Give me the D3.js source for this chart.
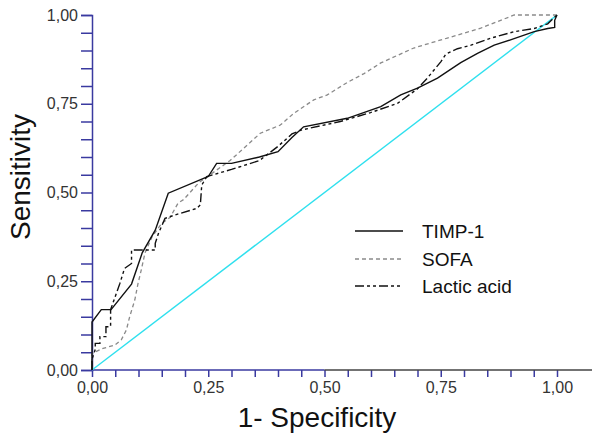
<!DOCTYPE html>
<html><head><meta charset="utf-8">
<script src="https://cdn.jsdelivr.net/npm/d3@7"></script>
<style>body{margin:0;background:#fff}svg{display:block}text{font-family:Arial,"Liberation Sans",sans-serif}</style>
</head><body>
<script>
// ---- data ----
const seriesNames = ["TIMP-1", "SOFA", "Lactic acid"];
const tickValues = d3.range(0, 21).map(i => i / 20);
const labelTicks = [0, 0.25, 0.5, 0.75, 1];

const timpFpr = [0, 0, 0.02, 0.041, 0.085, 0.108, 0.136, 0.164, 0.24, 0.25, 0.268, 0.30, 0.36, 0.40, 0.43, 0.455, 0.549, 0.621, 0.664, 0.70, 0.743, 0.793, 0.829, 0.865, 0.90, 0.951, 0.98, 0.995, 0.995, 1];
const timpTpr = [0, 0.135, 0.17, 0.17, 0.242, 0.33, 0.394, 0.498, 0.54, 0.545, 0.582, 0.582, 0.60, 0.615, 0.655, 0.685, 0.709, 0.742, 0.775, 0.794, 0.822, 0.866, 0.892, 0.915, 0.93, 0.953, 0.962, 0.965, 0.985, 1];

const sofaFpr = [0, 0, 0.024, 0.049, 0.063, 0.074, 0.081, 0.092, 0.099, 0.106, 0.114, 0.129, 0.15, 0.168, 0.185, 0.197, 0.230, 0.297, 0.362, 0.405, 0.434, 0.477, 0.506, 0.549, 0.585, 0.621, 0.692, 0.764, 0.836, 0.908, 1];
const sofaTpr = [0, 0.047, 0.061, 0.070, 0.085, 0.113, 0.150, 0.197, 0.244, 0.282, 0.33, 0.375, 0.413, 0.43, 0.47, 0.48, 0.528, 0.59, 0.667, 0.69, 0.723, 0.761, 0.775, 0.81, 0.835, 0.865, 0.907, 0.935, 0.963, 1.0, 1.0];

const lactFpr = [0, 0, 0.007, 0.007, 0.017, 0.017, 0.03, 0.03, 0.04, 0.04, 0.06, 0.07, 0.085, 0.085, 0.136, 0.136, 0.143, 0.157, 0.179, 0.225, 0.233, 0.236, 0.247, 0.30, 0.36, 0.40, 0.43, 0.45, 0.534, 0.599, 0.657, 0.70, 0.721, 0.75, 0.761, 0.786, 0.815, 0.858, 0.908, 0.951, 0.98, 1];
const lactTpr = [0, 0.03, 0.058, 0.075, 0.075, 0.094, 0.094, 0.122, 0.122, 0.17, 0.244, 0.286, 0.30, 0.338, 0.338, 0.357, 0.385, 0.427, 0.437, 0.455, 0.465, 0.521, 0.545, 0.565, 0.59, 0.63, 0.665, 0.676, 0.70, 0.725, 0.751, 0.792, 0.822, 0.868, 0.89, 0.905, 0.915, 0.935, 0.953, 0.962, 0.975, 1];

const refFpr = [0, 1];
const refTpr = [0, 1];

// ---- chart ----
const W = 600, H = 444;
const svg = d3.select("body").append("svg").attr("width", W).attr("height", H);
const x = d3.scaleLinear().domain([0, 1]).range([92, 557]);
const y = d3.scaleLinear().domain([0, 1]).range([370, 15]);
const fmt = v => d3.format(".2f")(v).replace(".", ",");
const blue = "#3a3aa0";

// y axis
const ya = svg.append("g").attr("transform", `translate(${x(0)},0)`)
  .call(d3.axisLeft(y).tickValues(tickValues).tickSize(11).tickPadding(3)
    .tickFormat(d => labelTicks.some(t => Math.abs(t - d) < 1e-9) ? fmt(d) : ""));
ya.select(".domain").attr("stroke", blue).attr("stroke-width", 1.5);
ya.selectAll(".tick line").attr("stroke", blue).attr("stroke-width", 1.5);
ya.selectAll(".tick text").attr("fill", "#333").style("font-size", "16px");

// x axis
const xa = svg.append("g").attr("transform", `translate(0,${y(0)})`)
  .call(d3.axisBottom(x).tickValues(tickValues).tickSize(7).tickPadding(5)
    .tickFormat(d => labelTicks.some(t => Math.abs(t - d) < 1e-9) ? fmt(d) : ""));
xa.select(".domain").remove();
xa.selectAll(".tick line").attr("stroke", blue).attr("stroke-width", 1.5);
xa.selectAll(".tick text").attr("fill", "#333").style("font-size", "16px");
xa.append("line").attr("x1", x(0)).attr("x2", x(0.5)).attr("stroke", blue).attr("stroke-width", 1.5);
xa.append("line").attr("x1", x(0.5)).attr("x2", 592).attr("stroke", "#444").attr("stroke-width", 1.5);

// titles
svg.append("text").attr("x", 317).attr("y", 427).attr("text-anchor", "middle")
  .style("font-size", "28px").attr("fill", "#111").text("1- Specificity");
svg.append("text").attr("transform", "translate(30,177) rotate(-90)").attr("text-anchor", "middle")
  .style("font-size", "28px").attr("fill", "#111").text("Sensitivity");

// curves
const line = d3.line().x(d => x(d[0])).y(d => y(d[1]));
const zip = (a, b) => a.map((v, i) => [v, b[i]]);
svg.append("path").datum(zip(refFpr, refTpr)).attr("d", line)
  .attr("fill", "none").attr("stroke", "#2fe0ee").attr("stroke-width", 1.5);
svg.append("path").datum(zip(sofaFpr, sofaTpr)).attr("d", line)
  .attr("fill", "none").attr("stroke", "#8a8a8a").attr("stroke-width", 1.3).attr("stroke-dasharray", "4,3");
svg.append("path").datum(zip(lactFpr, lactTpr)).attr("d", line)
  .attr("fill", "none").attr("stroke", "#111").attr("stroke-width", 1.4).attr("stroke-dasharray", "9,3,3,3,3,3");
svg.append("path").datum(zip(timpFpr, timpTpr)).attr("d", line)
  .attr("fill", "none").attr("stroke", "#111").attr("stroke-width", 1.4);

// legend
const styles = [
  {stroke: "#111", dash: null},
  {stroke: "#8a8a8a", dash: "4,3"},
  {stroke: "#111", dash: "9,3,3,3,3,3"}
];
const legY = [231, 259, 286];
seriesNames.forEach((n, i) => {
  const g = svg.append("g");
  g.append("line").attr("x1", 355).attr("x2", 403).attr("y1", legY[i]).attr("y2", legY[i])
    .attr("stroke", styles[i].stroke).attr("stroke-width", 1.5).attr("stroke-dasharray", styles[i].dash);
  g.append("text").attr("x", 422).attr("y", legY[i]).attr("dy", "0.35em")
    .style("font-size", "19px").attr("fill", "#111").text(n);
});
</script>
</body></html>
